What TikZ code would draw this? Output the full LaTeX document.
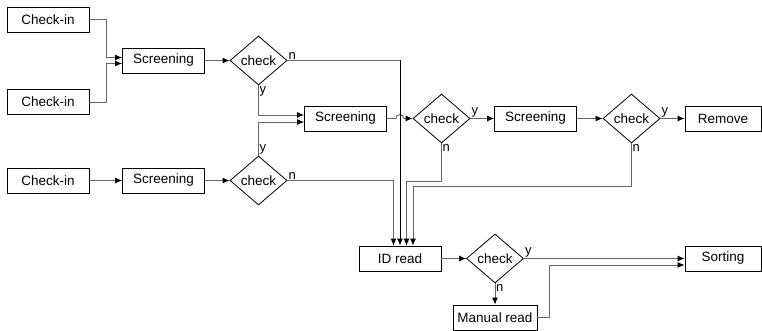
\documentclass[tikz,border=0pt]{standalone}
\usepackage{fontspec}
\setmainfont{Liberation Sans}
\usepackage{tikz}
\usetikzlibrary{shapes.geometric, arrows.meta, positioning, calc}

\begin{document}
\begin{tikzpicture}[x=1pt, y=-1pt,
  font=\fontsize{13.5}{16}\selectfont,
  box/.style={draw, line width=0.8pt, minimum width=82pt, minimum height=25pt, inner sep=0pt},
  test/.style={draw, diamond, line width=0.8pt, minimum width=57pt, minimum height=49pt, inner sep=0pt},
  flow/.style={draw=black!60, line width=0.9pt, -{Latex[black, length=7pt, width=6pt]}},
  lbl/.style={inner sep=1pt, font=\fontsize{13}{15}\selectfont}]
  \useasboundingbox (0,0) rectangle (762,331);

  % upper two lanes
  \node[box] (ci1) at (48,19.5) {Check-in};
  \node[box] (ci2) at (48,102) {Check-in};
  \node[box] (s1) at (163.5,60.5) {Screening};
  \node[test] (c1) at (258.5,60.5) {check};

  % lower lane
  \node[box] (ci3) at (48,180.5) {Check-in};
  \node[box] (s4) at (163.5,180.5) {Screening};
  \node[test] (c4) at (258.5,180.5) {check};

  % second screening stages
  \node[box] (s2) at (345.5,118.5) {Screening};
  \node[test] (c2) at (441.5,118.5) {check};
  \node[box] (s3) at (535.5,118.5) {Screening};
  \node[test] (c3) at (631.5,118.5) {check};
  \node[box, minimum width=76pt] (rm) at (723,118.5) {Remove};

  % reading and sorting
  \node[box] (id) at (400,258.5) {ID read};
  \node[test] (c5) at (495,258.5) {check};
  \node[box, minimum width=76pt] (sort) at (723,258.5) {Sorting};
  \node[box, minimum width=84pt] (man) at (495,317.5) {Manual read};

  \draw[flow] (ci1.east) -- ++(17,0) |- ([yshift=3pt]s1.west);
  \draw[flow] (ci2.east) -- ++(17,0) |- ([yshift=-3pt]s1.west);
  \draw[flow] (s1) -- (c1);
  \draw[flow] (ci3) -- (s4);
  \draw[flow] (s4) -- (c4);
  \draw[flow] (c1.south) |- ([yshift=3.5pt]s2.west);
  \draw[flow] (c4.north) |- ([yshift=-3.5pt]s2.west);
  \draw[flow] (s2.east) -- ++(9,0) arc[start angle=180, end angle=0, radius=4pt] -- (c2.west);
  \draw[flow] (c2.east) -- (s3.west);
  \draw[flow] (s3) -- (c3);
  \draw[flow] (c3.east) -- (rm.west);

  % rejected items go to ID read
  \coordinate (drop) at (id.north |- c1.east);
  \draw[draw=black!60, line width=0.9pt] (c1.east) -- (drop);
  \draw[flow, draw=black] (drop) -- (id.north);
  \draw[flow] (c4.east) -| ([xshift=-6.5pt]id.north);
  \draw[flow] (c2.south) -- ++(0,38) -| ([xshift=6.5pt]id.north);
  \draw[flow] (c3.south) -- ++(0,43) -| ([xshift=13pt]id.north);

  \draw[flow] (id) -- (c5);
  \draw[flow] (c5.east) -- (sort.west);
  \draw[flow] (c5.south) -- (man.north);
  \draw[flow] (man.east) -- ++(12,0) |- ([yshift=-6.5pt]sort.west);

  % branch labels
  \node[lbl, anchor=south west] (c1n) at (c1.east) {n};
  \node[lbl, anchor=north west] (c1y) at (c1.south) {y};
  \node[lbl, anchor=south west] (c4n) at (c4.east) {n};
  \node[lbl, anchor=south west] (c4y) at (c4.north) {y};
  \node[lbl, anchor=south west] (c2y) at (c2.east) {y};
  \node[lbl, anchor=north west] (c2n) at (c2.south) {n};
  \node[lbl, anchor=south west] (c3y) at (c3.east) {y};
  \node[lbl, anchor=north west] (c3n) at (c3.south) {n};
  \node[lbl, anchor=south west] (c5y) at (c5.east) {y};
  \node[lbl, anchor=north west] (c5n) at (c5.south) {n};
\end{tikzpicture}
\end{document}
